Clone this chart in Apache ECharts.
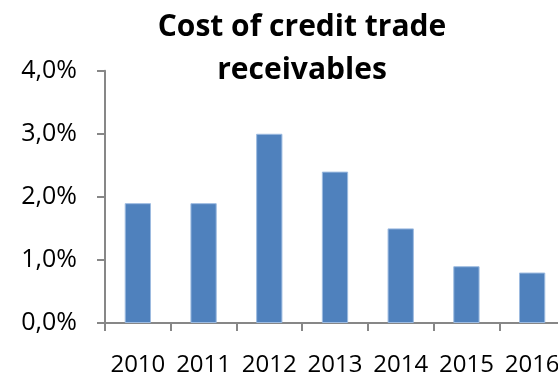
<!DOCTYPE html>
<html>
<head>
<meta charset="utf-8">
<script src="https://cdn.jsdelivr.net/npm/echarts@6/dist/echarts.min.js"></script>
<style>
html,body{margin:0;padding:0;background:#fff;}
#chart{width:558px;height:375px;}
</style>
</head>
<body>
<div id="chart"></div>
<script>
const categories = ['2010','2011','2012','2013','2014','2015','2016'];
const costValues = [1.9, 1.9, 3.0, 2.4, 1.5, 0.9, 0.8];
const titleText = 'Cost of credit trade\nreceivables';

const chart = echarts.init(document.getElementById('chart'), null, {renderer:'canvas'});
const axisColor = '#878787';
chart.setOption({
  animation: false,
  backgroundColor: '#ffffff',
  title: {
    text: titleText,
    left: 297,
    top: 1,
    textAlign: 'center',
    textStyle: {
      fontFamily: 'Open Sans',
      fontWeight: 'bold',
      fontSize: 30,
      lineHeight: 43,
      color: '#000'
    }
  },
  grid: { left: 105, top: 70.7, width: 460, height: 252.3, containLabel: false, outerBoundsMode: 'none' },
  xAxis: {
    type: 'category',
    data: categories,
    boundaryGap: true,
    axisLine: { lineStyle: { color: axisColor, width: 2 } },
    axisTick: { show: true, alignWithLabel: false, length: 8, lineStyle: { color: axisColor, width: 2 } },
    axisLabel: { fontFamily: 'Open Sans', fontSize: 24, color: '#000', margin: 30, interval: 0 },
    splitLine: { show: false }
  },
  yAxis: {
    type: 'value',
    min: 0, max: 4, interval: 1,
    axisLine: { show: true, lineStyle: { color: axisColor, width: 2 } },
    axisTick: { show: true, length: 8, lineStyle: { color: axisColor, width: 2 } },
    axisLabel: {
      fontFamily: 'Open Sans', fontSize: 25, color: '#000', margin: 28,
      formatter: v => v.toFixed(1).replace('.', ',') + '%'
    },
    splitLine: { show: false }
  },
  series: [{
    type: 'bar',
    data: costValues,
    barWidth: '40%',
    itemStyle: { color: '#4F81BD', borderColor: '#9dbbe0', borderWidth: 1 }
  }]
});
</script>
</body>
</html>
